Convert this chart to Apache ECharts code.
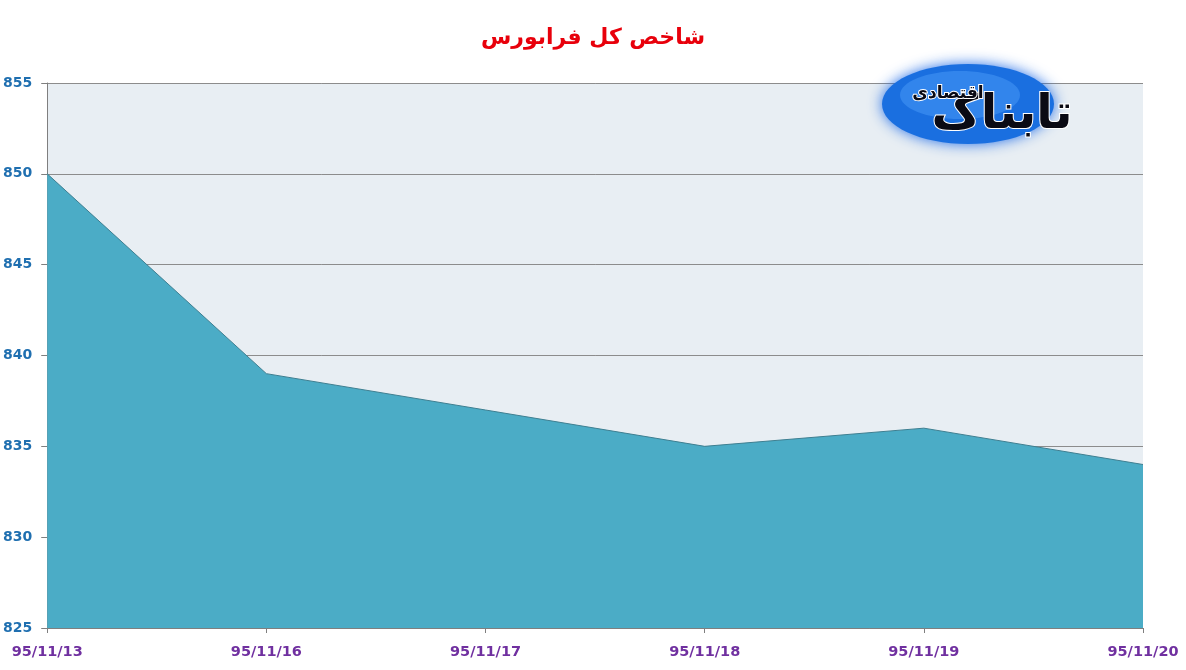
<!DOCTYPE html>
<html><head><meta charset="utf-8">
<script src="https://cdn.jsdelivr.net/npm/echarts@6/dist/echarts.min.js"></script>
<style>html,body{margin:0;padding:0;background:#fff}#c{width:1186px;height:670px}</style>
</head><body><div id="c"></div>
<script>
const categories = ['95/11/13','95/11/16','95/11/17','95/11/18','95/11/19','95/11/20'];
const indexValues = [850, 839, 837, 835, 836, 834];
const titleText = 'شاخص کل فرابورس';
const logoMain = 'تابناک';
const logoSub = 'اقتصادی';

const chart = echarts.init(document.getElementById('c'));
chart.setOption({
  animation: false,
  backgroundColor: '#fff',
  title: {
    text: titleText, left: 'center', top: 22,
    textStyle: { color: '#E8000B', fontSize: 22, fontWeight: 'bold', fontFamily: 'DejaVu Sans' }
  },
  grid: { left: 47, right: 43, top: 83, bottom: 42, show: true, backgroundColor: '#E8EEF3', borderWidth: 0 },
  xAxis: {
    type: 'category', data: categories, boundaryGap: false,
    axisLine: { show: true, lineStyle: { color: '#7F7F7F', width: 1 } },
    axisTick: { show: true, alignWithLabel: true, length: 5, lineStyle: { color: '#7F7F7F' } },
    axisLabel: { color: '#7030A0', fontWeight: 'bold', fontSize: 14.5, fontFamily: 'DejaVu Sans', margin: 17 },
    splitLine: { show: false }
  },
  yAxis: {
    type: 'value', min: 825, max: 855, interval: 5,
    axisLine: { show: true, lineStyle: { color: '#7F7F7F', width: 1 } },
    axisTick: { show: true, length: 6, lineStyle: { color: '#7F7F7F' } },
    axisLabel: { color: '#1F6FB0', fontWeight: 'bold', fontSize: 14, fontFamily: 'DejaVu Sans', margin: 15 },
    splitLine: { show: true, lineStyle: { color: '#8C8C8C', width: 1 } }
  },
  series: [{
    type: 'line', data: indexValues, symbol: 'none',
    lineStyle: { color: '#3E7F91', width: 1 },
    areaStyle: { color: '#4BACC6', opacity: 1, origin: 'start' },
    z: 3
  }],
  graphic: [
    { type: 'ellipse', shape: { cx: 968, cy: 104, rx: 86, ry: 40 }, z: 10,
      style: { fill: '#1A6FE0', shadowBlur: 14, shadowColor: 'rgba(20,100,230,0.9)' } },
    { type: 'ellipse', shape: { cx: 960, cy: 95, rx: 60, ry: 24 }, z: 10,
      style: { fill: 'rgba(80,160,250,0.45)' } },
    { type: 'text', x: 1002, y: 116, z: 11,
      style: { text: logoMain, fill: '#0A0A14', stroke: '#ffffff', lineWidth: 2, font: 'bold 48px "DejaVu Sans"', textAlign: 'center', textVerticalAlign: 'middle' } },
    { type: 'text', x: 948, y: 94, z: 12,
      style: { text: logoSub, fill: '#0A0A14', stroke: '#ffffff', lineWidth: 2, font: 'bold 17px "DejaVu Sans"', textAlign: 'center', textVerticalAlign: 'middle' } }
  ]
});
</script></body></html>
